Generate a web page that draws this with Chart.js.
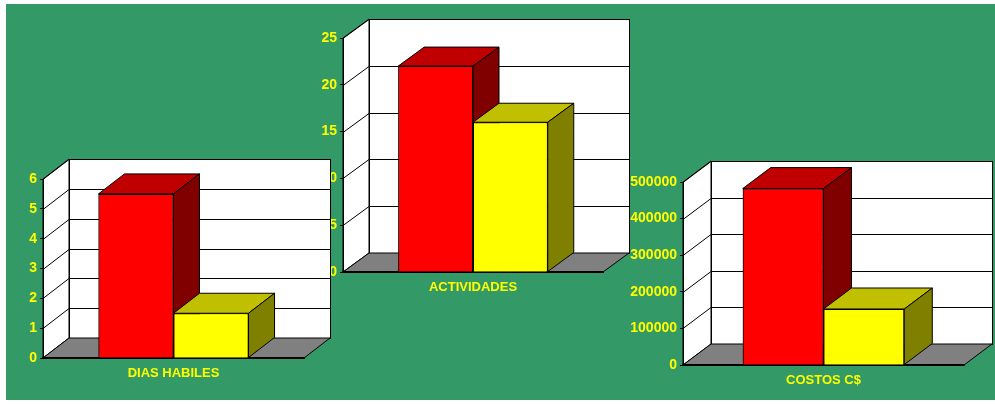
<!DOCTYPE html>
<html>
<head>
<meta charset="utf-8">
<script src="https://cdn.jsdelivr.net/npm/chart.js@4.4.1/dist/chart.umd.min.js"></script>
<style>
  body { margin: 0; background: #fff; }
  #frame { position: absolute; left: 6px; top: 4px; width: 989px; height: 396px; background: #339966; }
  canvas { position: absolute; }
  #actividades { left: 300px; top: 0px; z-index: 1; }
  #dias { left: 0px; top: 150px; z-index: 2; }
  #costos { left: 620px; top: 150px; z-index: 3; }
</style>
</head>
<body>
<div id="frame"></div>
<canvas id="actividades" width="340" height="310"></canvas>
<canvas id="dias" width="340" height="250"></canvas>
<canvas id="costos" width="375" height="250"></canvas>
<script>
// values
const diasLabels = ["DIAS HABILES"];
const diasPlan = [5.5];
const diasReal = [1.5];

const actividadesLabels = ["ACTIVIDADES"];
const actividadesPlan = [22];
const actividadesReal = [16];

const costosLabels = ["COSTOS C$"];
const costosPlan = [482000];
const costosReal = [153000];

const yellow = "#ffff00";
const tickFont = { family: "'Liberation Sans', Arial, sans-serif", size: 14, weight: "bold" };
const titleFont = { family: "'Liberation Sans', Arial, sans-serif", size: 13, weight: "bold" };

function poly(ctx, pts, fill) {
  ctx.beginPath();
  ctx.moveTo(pts[0][0], pts[0][1]);
  for (let i = 1; i < pts.length; i++) ctx.lineTo(pts[i][0], pts[i][1]);
  ctx.closePath();
  if (fill) {
    ctx.fillStyle = fill;
    ctx.fill();
  }
  ctx.stroke();
}

function line(ctx, x0, y0, x1, y1) {
  ctx.beginPath();
  ctx.moveTo(x0, y0);
  ctx.lineTo(x1, y1);
  ctx.stroke();
}

// old-style 3D box look: walls + floor behind, tops and sides on the bars
const depth3d = {
  id: "depth3d",
  beforeDraw(chart, args, opts) {
    const { ctx, chartArea: a } = chart;
    const y = chart.scales.y;
    const dx = opts.dx, dy = opts.dy;
    ctx.save();
    ctx.lineWidth = 1;
    ctx.strokeStyle = "#000";

    // back wall
    ctx.fillStyle = "#fff";
    ctx.fillRect(a.left + dx, a.top - dy, a.right - a.left, a.bottom - a.top);
    ctx.strokeRect(Math.round(a.left + dx) + 0.5, Math.round(a.top - dy) + 0.5, Math.round(a.right - a.left), Math.round(a.bottom - a.top));

    // side wall
    poly(ctx, [[a.left, a.top], [a.left + dx, a.top - dy], [a.left + dx, a.bottom - dy], [a.left, a.bottom]], "#fff");

    // grid on the back wall and diagonals on the side wall
    y.ticks.forEach((t) => {
      const py = Math.round(y.getPixelForValue(t.value)) + 0.5;
      line(ctx, a.left + dx, py - dy, a.right + dx, py - dy);
      line(ctx, a.left, py, a.left + dx, py - dy);
    });

    // floor
    poly(ctx, [[a.left, a.bottom], [a.right, a.bottom], [a.right + dx, a.bottom - dy], [a.left + dx, a.bottom - dy]], "#808080");
    ctx.restore();
  },
  afterDatasetsDraw(chart, args, opts) {
    const { ctx } = chart;
    const dx = opts.dx, dy = opts.dy;
    ctx.save();
    ctx.lineWidth = 1;
    ctx.strokeStyle = "#000";
    // redraw in dataset order so each bar sits in front of the previous one's side
    chart.data.datasets.forEach((ds, i) => {
      chart.getDatasetMeta(i).data.forEach((el) => {
        el.draw(ctx);
        const { x, y, base, width } = el.getProps(["x", "y", "base", "width"], true);
        const x0 = x - width / 2, x1 = x + width / 2;
        poly(ctx, [[x0, y], [x0 + dx, y - dy], [x1 + dx, y - dy], [x1, y]], ds.topColor);
        poly(ctx, [[x1, y], [x1 + dx, y - dy], [x1 + dx, base - dy], [x1, base]], ds.sideColor);
      });
    });
    ctx.restore();
  },
};

function makeChart(id, labels, plan, real, max, step, box) {
  return new Chart(document.getElementById(id), {
    type: "bar",
    data: {
      labels: labels,
      datasets: [
        {
          data: plan,
          backgroundColor: "#ff0000",
          topColor: "#c00000",
          sideColor: "#800000",
          borderColor: "#000",
          borderWidth: 1,
        },
        {
          data: real,
          backgroundColor: "#ffff00",
          topColor: "#c0c000",
          sideColor: "#808000",
          borderColor: "#000",
          borderWidth: 1,
        },
      ],
    },
    options: {
      responsive: false,
      animation: false,
      categoryPercentage: 0.575,
      barPercentage: 1,
      layout: { padding: { top: box.top, right: box.right, left: 0, bottom: 0 } },
      plugins: {
        legend: { display: false },
        tooltip: { enabled: false },
        depth3d: { dx: box.dx, dy: box.dy },
      },
      scales: {
        x: {
          grid: { display: false },
          border: { display: true, color: "#000", width: 2 },
          ticks: { color: yellow, font: titleFont, padding: 0 },
          afterFit: (s) => { s.height = box.xh; },
        },
        y: {
          min: 0,
          max: max,
          grid: { display: true, drawOnChartArea: false, drawTicks: true, tickLength: 3, color: "#000" },
          border: { display: true, color: "#000", width: 1 },
          ticks: {
            stepSize: step,
            color: yellow,
            font: tickFont,
            padding: 3,
            callback: (v) => String(v),
          },
          afterFit: (s) => { s.width = box.yw; },
        },
      },
    },
    plugins: [depth3d],
  });
}

makeChart("actividades", actividadesLabels, actividadesPlan, actividadesReal, 25, 5,
  { top: 38, right: 37, yw: 43, xh: 38, dx: 26, dy: 19 });
makeChart("dias", diasLabels, diasPlan, diasReal, 6, 1,
  { top: 29, right: 36, yw: 43, xh: 42, dx: 26, dy: 20 });
makeChart("costos", costosLabels, costosPlan, costosReal, 500000, 100000,
  { top: 32, right: 31, yw: 63, xh: 35, dx: 28, dy: 21 });
</script>
</body>
</html>
